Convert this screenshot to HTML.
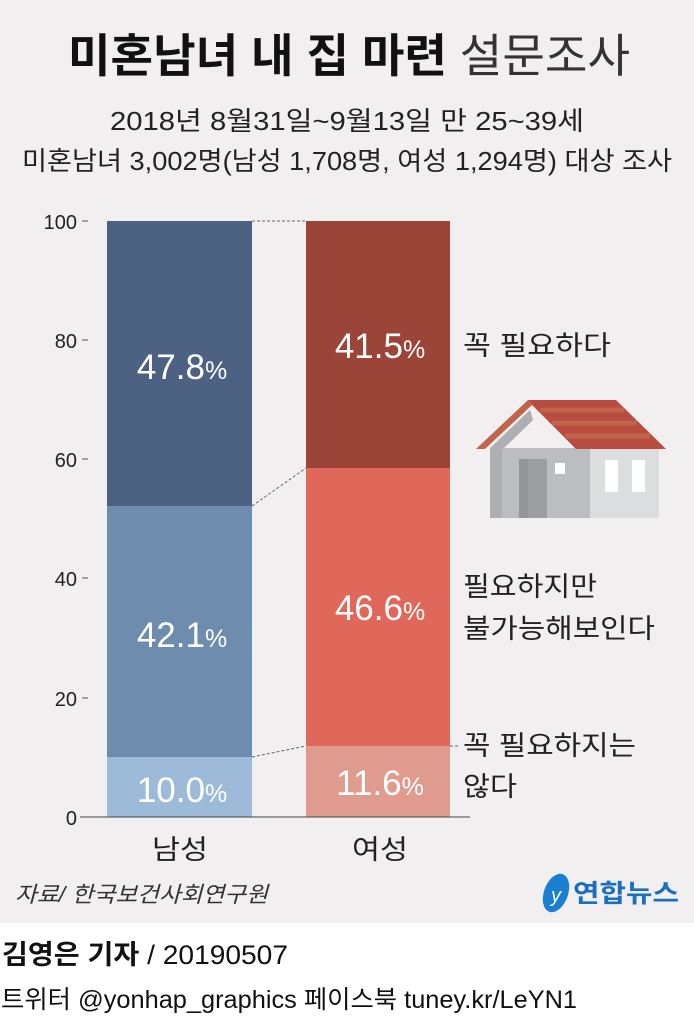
<!DOCTYPE html>
<html><head><meta charset="utf-8"><style>
body{margin:0;width:694px;height:1016px;overflow:hidden;background:#fff;font-family:"Liberation Sans","Noto Sans CJK KR",sans-serif}
</style></head><body>
<svg width="694" height="1016" xmlns="http://www.w3.org/2000/svg" font-family="'Liberation Sans','Noto Sans CJK KR',sans-serif">
<rect width="694" height="923" fill="#f1eff0"/>
<text x="68" y="72" font-size="46" font-weight="bold" fill="#111" textLength="562" lengthAdjust="spacingAndGlyphs">미혼남녀 내 집 마련 <tspan font-weight="normal" fill="#333">설문조사</tspan></text>
<text x="110" y="130" font-size="26" fill="#222" textLength="474" lengthAdjust="spacingAndGlyphs">2018년 8월31일~9월13일 만 25~39세</text>
<text x="22" y="170" font-size="26" fill="#222" textLength="650" lengthAdjust="spacingAndGlyphs">미혼남녀 3,002명(남성 1,708명, 여성 1,294명) 대상 조사</text>
<g font-size="20" fill="#222" text-anchor="end">
<text x="77" y="229">100</text><text x="77" y="348">80</text><text x="77" y="467">60</text><text x="77" y="586">40</text><text x="77" y="706">20</text><text x="77" y="825">0</text>
</g>
<g stroke="#555" stroke-width="1">
<line x1="82" y1="221" x2="88" y2="221"/><line x1="82" y1="340" x2="88" y2="340"/><line x1="82" y1="459" x2="88" y2="459"/><line x1="82" y1="578" x2="88" y2="578"/><line x1="82" y1="698" x2="88" y2="698"/><line x1="82" y1="817" x2="88" y2="817"/>
</g>
<rect x="107" y="221" width="145" height="285" fill="#4d6282"/>
<rect x="107" y="506" width="145" height="251" fill="#6e8cae"/>
<rect x="107" y="757" width="145" height="60" fill="#9dbbd9"/>
<rect x="306" y="221" width="144" height="247" fill="#9b4539"/>
<rect x="306" y="468" width="144" height="278" fill="#e0685a"/>
<rect x="306" y="746" width="144" height="71" fill="#e09b8f"/>
<line x1="80" y1="817" x2="470" y2="817" stroke="#444"/>
<g stroke="#666" stroke-dasharray="3,2" fill="none">
<line x1="252" y1="221" x2="306" y2="221"/><line x1="252" y1="506" x2="306" y2="468"/><line x1="252" y1="757" x2="306" y2="746"/>
<line x1="450" y1="746" x2="460" y2="746"/>
</g>
<g fill="#fff" font-size="35" text-anchor="middle">
<text x="182" y="379">47.8<tspan font-size="25">%</tspan></text>
<text x="182" y="647">42.1<tspan font-size="25">%</tspan></text>
<text x="182" y="802">10.0<tspan font-size="25">%</tspan></text>
<text x="380" y="358">41.5<tspan font-size="25">%</tspan></text>
<text x="380" y="620">46.6<tspan font-size="25">%</tspan></text>
<text x="380" y="795">11.6<tspan font-size="25">%</tspan></text>
</g>
<g font-size="27" fill="#222" lengthAdjust="spacingAndGlyphs">
<text x="463" y="355" textLength="148" lengthAdjust="spacingAndGlyphs">꼭 필요하다</text>
<text x="463" y="596" textLength="134" lengthAdjust="spacingAndGlyphs">필요하지만</text>
<text x="463" y="638" textLength="192" lengthAdjust="spacingAndGlyphs">불가능해보인다</text>
<text x="463" y="755" textLength="173" lengthAdjust="spacingAndGlyphs">꼭 필요하지는</text>
<text x="463" y="796" textLength="54" lengthAdjust="spacingAndGlyphs">않다</text>
<text x="152" y="859" textLength="56" lengthAdjust="spacingAndGlyphs">남성</text>
<text x="352" y="859" textLength="56" lengthAdjust="spacingAndGlyphs">여성</text>
</g>
<!-- house -->
<rect x="490" y="448" width="100" height="70" fill="#bcbdc0"/>
<rect x="590" y="448" width="69" height="70" fill="#dcdddf"/>
<polygon points="530,410 490,448 490,518 502,518 502,450 533,420" fill="#aeafb2"/>
<polygon points="528,400 476,449 485,449 532,405 576,449 590,449" fill="#c0654c"/>
<polygon points="528,400 616,400 666,449 576,449" fill="#b94c40"/>
<g stroke="#c0654c" stroke-width="5"><line x1="540" y1="410" x2="624" y2="410"/><line x1="552" y1="423" x2="637" y2="423"/><line x1="565" y1="436" x2="650" y2="436"/></g>
<rect x="519" y="459" width="28" height="59" fill="#9d9ea1"/>
<rect x="519" y="459" width="9" height="59" fill="#939497"/>
<rect x="555" y="463" width="10" height="11" fill="#fff" rx="1"/>
<rect x="605" y="460" width="13" height="32" fill="#fff" rx="1"/>
<rect x="632" y="460" width="13" height="32" fill="#fff" rx="1"/>
<text x="15" y="902" font-size="22" fill="#333" font-style="italic" textLength="253" lengthAdjust="spacingAndGlyphs">자료/ 한국보건사회연구원</text>
<ellipse cx="556" cy="893" rx="12" ry="20" fill="#1a7fd0" transform="rotate(20 556 893)"/>
<text x="556" y="902" font-size="20" fill="#fff" text-anchor="middle" font-style="italic">y</text>
<text x="573" y="902" font-size="25" font-weight="bold" fill="#1a6fc0" textLength="106" lengthAdjust="spacingAndGlyphs">연합뉴스</text>
<text x="2" y="964" font-size="27" fill="#111" textLength="286" lengthAdjust="spacingAndGlyphs"><tspan font-weight="bold">김영은 기자</tspan> / 20190507</text>
<text x="1" y="1008" font-size="25" fill="#111" textLength="576" lengthAdjust="spacingAndGlyphs">트위터 @yonhap_graphics  페이스북 tuney.kr/LeYN1</text>
</svg>
</body></html>
